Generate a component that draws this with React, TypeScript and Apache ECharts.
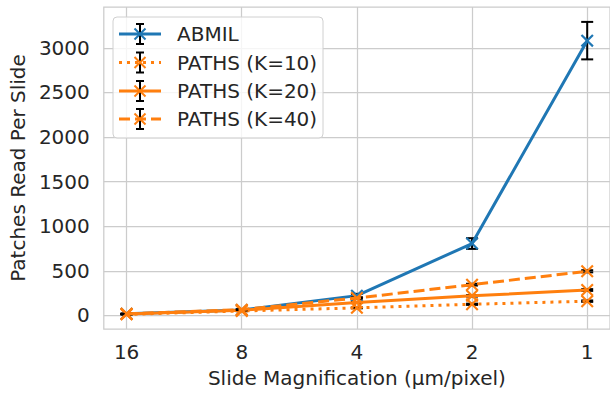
import React, { useEffect, useRef } from "react";
import * as echarts from "echarts";

const categories = ["16", "8", "4", "2", "1"];
const tickValuesY = [0, 500, 1000, 1500, 2000, 2500, 3000];

const seriesNames = ["ABMIL", "PATHS (K=10)", "PATHS (K=20)", "PATHS (K=40)"];
const abmil = [18, 62, 222, 806, 3080];
const abmilErr = [4, 8, 20, 60, 210];
const pathsK10 = [12, 50, 85, 125, 160];
const pathsK10Err = [2, 3, 5, 7, 8];
const pathsK20 = [15, 58, 145, 220, 285];
const pathsK20Err = [2, 3, 6, 8, 10];
const pathsK40 = [18, 65, 195, 345, 495];
const pathsK40Err = [2, 4, 7, 10, 12];

const BLUE = "#1f77b4";
const ORANGE = "#ff7f0e";
const TXT = "#262626";
const GRID = "#cccccc";
const FONT = "DejaVu Sans";
const FS = 20;
const X_PATH =
  "path://M0,1.41 L1.41,0 L6,4.59 L10.59,0 L12,1.41 L7.41,6 L12,10.59 L10.59,12 L6,7.41 L1.41,12 L0,10.59 L4.59,6 Z";

const styles = [
  { color: BLUE, type: "solid" as any, dash: null as number[] | null },
  { color: ORANGE, type: [3, 5] as any, dash: [3, 5] },
  { color: ORANGE, type: "solid" as any, dash: null },
  { color: ORANGE, type: [11, 5] as any, dash: [11, 5] },
];
const values = [abmil, pathsK10, pathsK20, pathsK40];
const errors = [abmilErr, pathsK10Err, pathsK20Err, pathsK40Err];

export default function App() {
  const ref = useRef<HTMLDivElement>(null);
  useEffect(() => {
    if (!ref.current) return;
    const chart = echarts.init(ref.current, null, { renderer: "svg" });
    const series: any[] = [];
    values.forEach((vals, si) => {
      series.push({
        type: "custom",
        name: seriesNames[si] + " err",
        clip: false,
        z: 2 + si * 2,
        data: vals.map((v, i) => [i, v - errors[si][i], v + errors[si][i]]),
        encode: { x: 0, y: [1, 2] },
        renderItem: (params: any, api: any) => {
          const x = api.value(0);
          const top = api.coord([x, api.value(2)]);
          const bot = api.coord([x, api.value(1)]);
          const hw = 6;
          const st = { stroke: "#000", lineWidth: 2 };
          return {
            type: "group",
            children: [
              { type: "line", shape: { x1: top[0], y1: top[1], x2: bot[0], y2: bot[1] }, style: st },
              { type: "line", shape: { x1: top[0] - hw, y1: top[1], x2: top[0] + hw, y2: top[1] }, style: st },
              { type: "line", shape: { x1: bot[0] - hw, y1: bot[1], x2: bot[0] + hw, y2: bot[1] }, style: st },
            ],
          };
        },
      });
      series.push({
        type: "line",
        name: seriesNames[si],
        z: 3 + si * 2,
        clip: false,
        data: vals.map((v, i) => [i, v]),
        symbol: X_PATH,
        symbolSize: 13,
        showSymbol: true,
        itemStyle: { color: styles[si].color },
        lineStyle: { color: styles[si].color, width: 3, type: styles[si].type },
      });
    });

    // Legend built with graphic elements
    const lx = 113, ly = 17, lw = 210, lh = 121;
    const rowY = [34, 62.5, 91, 119];
    const legendChildren: any[] = [
      {
        type: "rect",
        shape: { x: lx, y: ly, width: lw, height: lh, r: 4 },
        style: { fill: "rgba(255,255,255,0.8)", stroke: "#d0d0d0", lineWidth: 1 },
      },
    ];
    seriesNames.forEach((name, si) => {
      const y = rowY[si];
      const cx = 140;
      const c = styles[si].color;
      legendChildren.push({
        type: "line",
        shape: { x1: 119, y1: y, x2: 161, y2: y },
        style: { stroke: c, lineWidth: 3, lineDash: styles[si].dash || undefined },
      });
      const st = { stroke: "#000", lineWidth: 2 };
      legendChildren.push({ type: "line", shape: { x1: cx, y1: y - 10, x2: cx, y2: y + 10 }, style: st });
      legendChildren.push({ type: "line", shape: { x1: cx - 4, y1: y - 10, x2: cx + 4, y2: y - 10 }, style: st });
      legendChildren.push({ type: "line", shape: { x1: cx - 4, y1: y + 10, x2: cx + 4, y2: y + 10 }, style: st });
      legendChildren.push({ type: "line", shape: { x1: cx - 5.5, y1: y - 5.5, x2: cx + 5.5, y2: y + 5.5 }, style: { stroke: c, lineWidth: 2 } });
      legendChildren.push({ type: "line", shape: { x1: cx - 5.5, y1: y + 5.5, x2: cx + 5.5, y2: y - 5.5 }, style: { stroke: c, lineWidth: 2 } });
      legendChildren.push({
        type: "text",
        x: 177,
        y: y,
        style: { text: name, fill: TXT, font: `${FS}px "${FONT}"`, textVerticalAlign: "middle", textAlign: "left" },
      });
    });

    chart.setOption({
      animation: false,
      backgroundColor: "#ffffff",
      textStyle: { fontFamily: FONT },
      grid: {
        left: 102,
        top: 7,
        width: 510,
        height: 326,
        show: true,
        borderColor: GRID,
        borderWidth: 1.25,
        backgroundColor: "transparent",
        containLabel: false,
      },
      xAxis: {
        type: "value",
        min: -0.198,
        max: 4.198,
        axisLine: { show: false },
        axisTick: { show: false, customValues: [0, 1, 2, 3, 4] },
        axisLabel: {
          customValues: [0, 1, 2, 3, 4],
          formatter: (v: number) => categories[Math.round(v)] ?? "",
          color: TXT,
          fontSize: FS,
          fontFamily: FONT,
          margin: 13,
        },
        splitLine: { show: true, lineStyle: { color: GRID, width: 1.25 } },
        name: "Slide Magnification (\u00b5m/pixel)",
        nameLocation: "middle",
        nameGap: 39,
        nameTextStyle: { color: TXT, fontSize: FS, fontFamily: FONT },
      },
      yAxis: {
        type: "value",
        min: -152,
        max: 3457,
        axisLine: { show: false },
        axisTick: { show: false, customValues: tickValuesY },
        axisLabel: {
          customValues: tickValuesY,
          formatter: (v: number) => String(v),
          color: TXT,
          fontSize: FS,
          fontFamily: FONT,
          margin: 14,
        },
        splitLine: { show: true, lineStyle: { color: GRID, width: 1.25 } },
        name: "Patches Read Per Slide",
        nameLocation: "middle",
        nameGap: 74,
        nameTextStyle: { color: TXT, fontSize: FS, fontFamily: FONT },
      },
      graphic: legendChildren.map((c) => ({ ...c, z: 100 })),
      series,
    });
    return () => chart.dispose();
  }, []);
  return <div ref={ref} style={{ position: "fixed", left: 0, top: 0, width: 610, height: 393 }} />;
}
